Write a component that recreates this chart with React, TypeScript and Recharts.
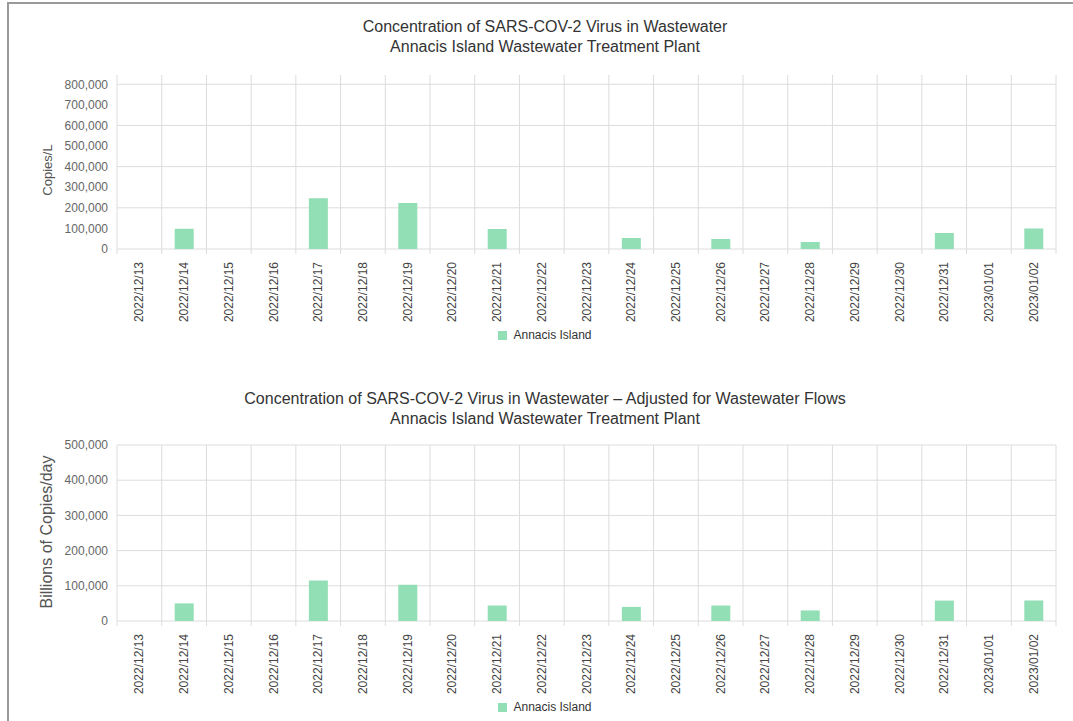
import React from "react";
import { Bar, BarChart, CartesianGrid, Legend, XAxis, YAxis } from "recharts";

const dates = [
  "2022/12/13", "2022/12/14", "2022/12/15", "2022/12/16", "2022/12/17", "2022/12/18", "2022/12/19",
  "2022/12/20", "2022/12/21", "2022/12/22", "2022/12/23", "2022/12/24", "2022/12/25", "2022/12/26",
  "2022/12/27", "2022/12/28", "2022/12/29", "2022/12/30", "2022/12/31", "2023/01/01", "2023/01/02",
];

// Copies/L
const copiesPerL = [
  null, 98000, null, null, 247000, null, 223000, null, 97000, null, null,
  53000, null, 48000, null, 34000, null, null, 78000, null, 100000,
];

// Billions of copies/day (flow adjusted)
const billionsPerDay = [
  null, 50000, null, null, 115000, null, 103000, null, 44000, null, null,
  40000, null, 44000, null, 30000, null, null, 58000, null, 58000,
];

const copiesTicks = [0, 100000, 200000, 300000, 400000, 500000, 600000, 700000, 800000];
const billionsTicks = [0, 100000, 200000, 300000, 400000, 500000];

const seriesName = "Annacis Island";
const BAR = "#92deb5";
const GRID = "#dcdcdc";
const FONT = "'Liberation Sans', Arial, Helvetica, sans-serif";
const W = 1072;
const Y_W = 108;
const RIGHT = 25;
const PLOT_W = W - Y_W - RIGHT;
const BAND = PLOT_W / dates.length;

type Row = { date: string; value: number | null };

// vertical grid lines sit on the category boundaries, not the centres
function boundaryLines({ offset }: any) {
  const left = offset?.left ?? Y_W;
  const w = offset?.width ?? PLOT_W;
  const out: number[] = [];
  for (let i = 0; i <= dates.length; i++) out.push(left + (w * i) / dates.length);
  return out;
}

function DateTick(props: any) {
  const { x, y, payload, index } = props;
  const last = index === dates.length - 1;
  return (
    <g>
      <line x1={x - BAND / 2} x2={x - BAND / 2} y1={y} y2={y + 5} stroke={GRID} />
      {last ? <line x1={x + BAND / 2} x2={x + BAND / 2} y1={y} y2={y + 5} stroke={GRID} /> : null}
      <text
        transform={`translate(${x + 4},${y + 13}) rotate(-90)`}
        textAnchor="end"
        fontSize={12}
        fill="#444"
        fontFamily={FONT}
      >
        {payload.value}
      </text>
    </g>
  );
}

function LegendItem() {
  return (
    <div
      style={{
        display: "flex",
        justifyContent: "center",
        alignItems: "center",
        height: 20,
        fontSize: 12,
        color: "#333",
        fontFamily: FONT,
      }}
    >
      <span style={{ width: 9, height: 9, background: BAR, marginRight: 6, display: "inline-block" }} />
      {seriesName}
    </div>
  );
}

type ChartProps = {
  title: string[];
  titleTop: number;
  values: (number | null)[];
  ticks: number[];
  yMax: number;
  yLabel: string;
  yLabelSize: number;
  yLabelShift: number;
  height: number;
  top: number;
  bottom: number;
};

function VirusChart(p: ChartProps) {
  const data: Row[] = dates.map((d, i) => ({ date: d, value: p.values[i] }));

  return (
    <div style={{ position: "relative", width: W, height: p.height }}>
      <div
        style={{
          position: "absolute",
          top: p.titleTop,
          left: 0,
          width: W,
          textAlign: "center",
          fontFamily: FONT,
          fontSize: 16,
          lineHeight: "20px",
          color: "#333",
          zIndex: 1,
          pointerEvents: "none",
        }}
      >
        {p.title.map((t) => (
          <div key={t}>{t}</div>
        ))}
      </div>
      <BarChart
        width={W}
        height={p.height}
        data={data}
        margin={{ top: p.top, right: RIGHT, left: 0, bottom: p.bottom }}
        barCategoryGap={0}
      >
        <CartesianGrid stroke={GRID} syncWithTicks verticalCoordinatesGenerator={boundaryLines} />
        <XAxis
          dataKey="date"
          interval={0}
          tick={<DateTick />}
          tickLine={false}
          tickSize={0}
          tickMargin={0}
          axisLine={false}
          height={76}
        />
        <YAxis
          domain={[0, p.yMax]}
          ticks={p.ticks}
          allowDataOverflow
          axisLine={false}
          tickLine={false}
          tickSize={0}
          tickMargin={9}
          width={Y_W}
          tick={{ fontSize: 12, fill: "#666", fontFamily: FONT }}
          tickFormatter={(v: number) => v.toLocaleString("en-US")}
          label={{
            content: (lp: any) => {
              const vb = lp.viewBox;
              const cx = vb.x + 42.5;
              const cy = vb.y + vb.height / 2 + p.yLabelShift;
              return (
                <text
                  x={cx}
                  y={cy}
                  transform={`rotate(-90 ${cx} ${cy})`}
                  textAnchor="middle"
                  fontSize={p.yLabelSize}
                  fill="#555"
                  fontFamily={FONT}
                >
                  {p.yLabel}
                </text>
              );
            },
          }}
        />
        <Legend verticalAlign="bottom" content={LegendItem} wrapperStyle={{ left: 0, width: W }} />
        <Bar dataKey="value" name={seriesName} fill={BAR} barSize={19} isAnimationActive={false} />
      </BarChart>
    </div>
  );
}

export default function App() {
  return (
    <div
      style={{
        position: "absolute",
        left: 7,
        top: 2,
        width: 1064,
        height: 717,
        overflow: "hidden",
        borderTop: "2px solid #9a9a9a",
        borderLeft: "2px solid #9a9a9a",
        background: "#fff",
      }}
    >
      <VirusChart
        title={["Concentration of SARS-COV-2 Virus in Wastewater", "Annacis Island Wastewater Treatment Plant"]}
        titleTop={13}
        values={copiesPerL}
        ticks={copiesTicks}
        yMax={845000}
        yLabel="Copies/L"
        yLabelSize={13}
        yLabelShift={8}
        height={360}
        top={71}
        bottom={19}
      />
      <VirusChart
        title={[
          "Concentration of SARS-COV-2 Virus in Wastewater \u2013 Adjusted for Wastewater Flows",
          "Annacis Island Wastewater Treatment Plant",
        ]}
        titleTop={25}
        values={billionsPerDay}
        ticks={billionsTicks}
        yMax={500000}
        yLabel="Billions of Copies/day"
        yLabelSize={16}
        yLabelShift={-1}
        height={357}
        top={81}
        bottom={4}
      />
    </div>
  );
}
